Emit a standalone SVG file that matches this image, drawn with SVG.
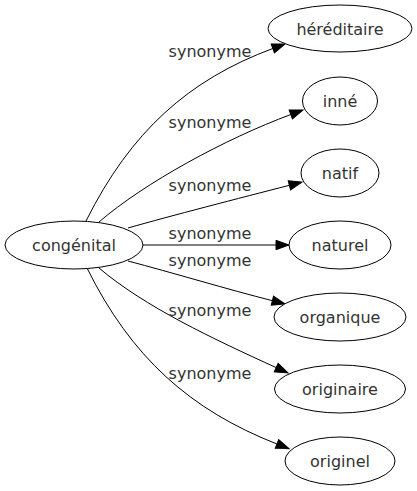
<svg xmlns="http://www.w3.org/2000/svg" width="417" height="491" viewBox="0 0 417 491">
<style>
  .node ellipse { fill: #ffffff; stroke: #000000; stroke-width: 1; }
  text { font-family: "DejaVu Sans", sans-serif; font-size: 16px; fill: #333333; text-anchor: middle; }
  .edge { fill: none; stroke: #000000; stroke-width: 1; marker-end: url(#arrow); }
</style>
<defs>
  <marker id="arrow" markerUnits="userSpaceOnUse" markerWidth="14" markerHeight="12" refX="0" refY="5" orient="auto" overflow="visible">
    <path d="M0,0.3 L13,5 L0,9.7 z" fill="#000000" stroke="#000000" stroke-width="1"/>
  </marker>
</defs>
<rect width="417" height="491" fill="#ffffff"/>
<g id="connectors">
  <path class="edge" d="M86,221 C130.7,131.6 188.5,79.8 272.8,48.5"/>
  <path class="edge" d="M99,222 C144.4,182.8 225.2,138.9 290.8,114.5"/>
  <path class="edge" d="M128,228 C170,216 240,198 289.4,185.3"/>
  <path class="edge" d="M143,245 L276,245"/>
  <path class="edge" d="M128,261 C170,272 230,290 272.4,300.7"/>
  <path class="edge" d="M99,268 C144.8,306.8 212.5,338.6 276.2,367.6"/>
  <path class="edge" d="M87,268 C131,357 190,410 277,444"/>
  <text x="210" y="57">synonyme</text>
  <text x="210" y="128">synonyme</text>
  <text x="210" y="191">synonyme</text>
  <text x="210" y="239">synonyme</text>
  <text x="210" y="266">synonyme</text>
  <text x="210" y="316">synonyme</text>
  <text x="210" y="379">synonyme</text>
</g>
<g id="congenital" class="node">
  <ellipse cx="74" cy="245" rx="69" ry="24"/>
  <text x="74" y="251">congénital</text>
</g>
<g id="hereditaire" class="node">
  <ellipse cx="340" cy="28.5" rx="72" ry="23.5"/>
  <text x="340" y="34.5">héréditaire</text>
</g>
<g id="inne" class="node">
  <ellipse cx="340" cy="101" rx="37.5" ry="24"/>
  <text x="340" y="107">inné</text>
</g>
<g id="natif" class="node">
  <ellipse cx="340" cy="173" rx="39" ry="24"/>
  <text x="340" y="179">natif</text>
</g>
<g id="naturel" class="node">
  <ellipse cx="340" cy="245" rx="51" ry="24"/>
  <text x="340" y="251">naturel</text>
</g>
<g id="organique" class="node">
  <ellipse cx="340" cy="317" rx="66" ry="24"/>
  <text x="340" y="323">organique</text>
</g>
<g id="originaire" class="node">
  <ellipse cx="340" cy="389" rx="65.5" ry="24"/>
  <text x="340" y="395">originaire</text>
</g>
<g id="originel" class="node">
  <ellipse cx="340" cy="461" rx="55" ry="24"/>
  <text x="340" y="467">originel</text>
</g>
</svg>
